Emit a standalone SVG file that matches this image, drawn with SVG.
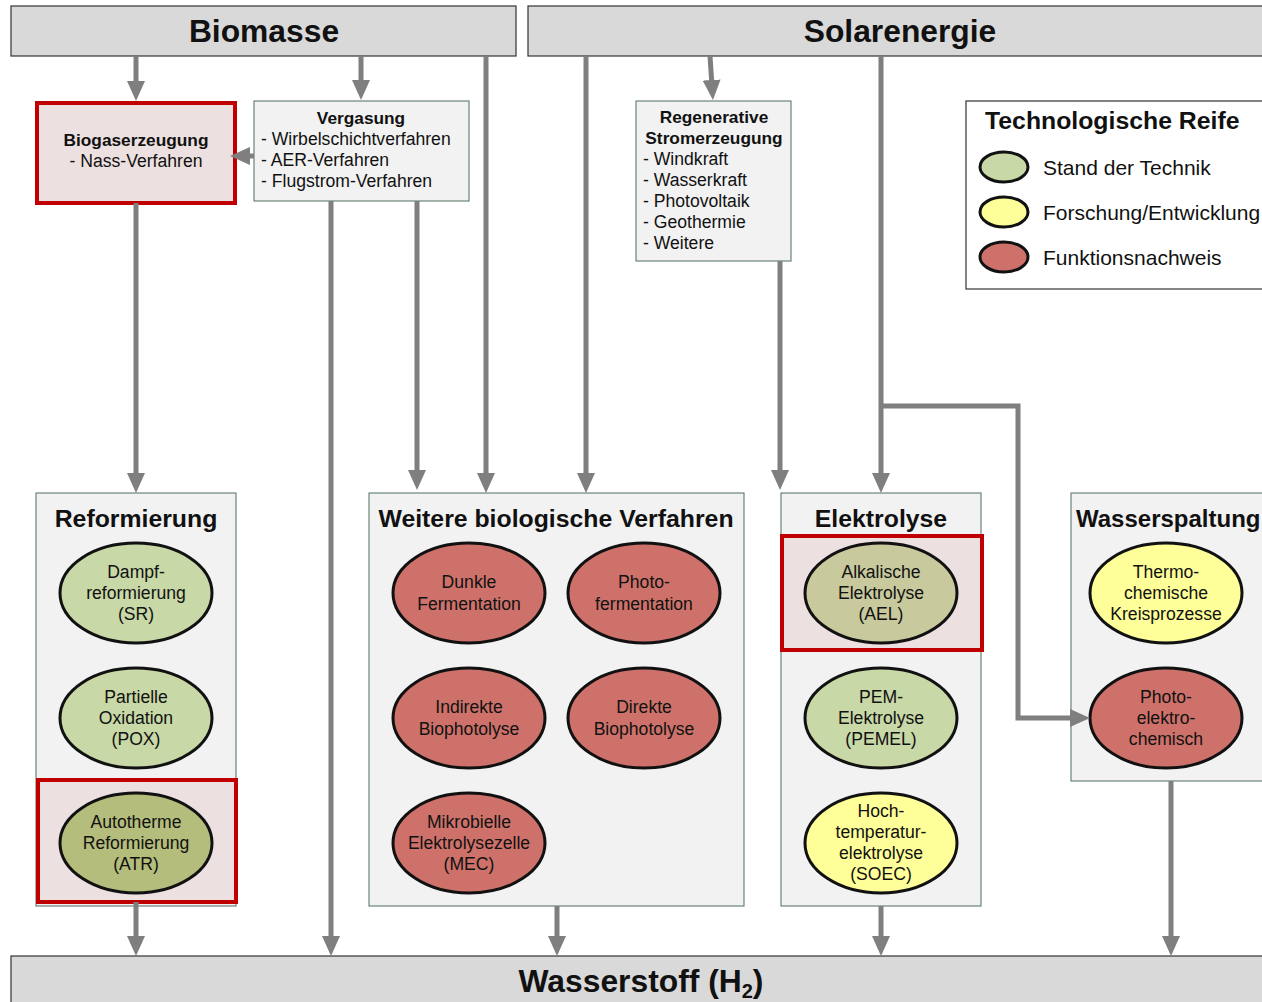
<svg xmlns="http://www.w3.org/2000/svg" width="1262" height="1002" viewBox="0 0 1262 1002">
<style>
text{font-family:"Liberation Sans",Arial,sans-serif;fill:#111}
.hdr{fill:#d9d9d9;stroke:#333;stroke-width:1.2}
.ht{font-size:31.8px;font-weight:bold;text-anchor:middle}
.box{fill:#f2f2f2;stroke:#4f6f5a;stroke-width:1}
.hl{fill:#ede0e0;stroke:#c00000;stroke-width:4}
.ti{font-size:24.8px;font-weight:bold}
.t17{font-size:17.6px}
.b17{font-size:17.3px;font-weight:bold}
.c{text-anchor:middle}
.el{stroke:#111;stroke-width:3}
.g{fill:#c8d8a6}.y{fill:#ffff99}.r{fill:#cd716a}
.con path{fill:none;stroke:#7f7f7f;stroke-width:5;marker-end:url(#ah)}
.lg{font-size:21px}
</style>
<defs>
<marker id="ah" viewBox="0 0 20 18" refX="6" refY="9" markerWidth="20" markerHeight="18" markerUnits="userSpaceOnUse" orient="auto">
<path d="M0,0 L20,9 L0,18 z" fill="#7f7f7f"/>
</marker>
</defs>
<rect width="1262" height="1002" fill="#fff"/>

<g id="biomasse"><rect class="hdr" x="11" y="6" width="505" height="50"/><text class="ht" x="264" y="42">Biomasse</text></g>
<g id="solarenergie"><rect class="hdr" x="528" y="6" width="740" height="50"/><text class="ht" x="900" y="42">Solarenergie</text></g>
<g id="wasserstoff"><rect class="hdr" x="11" y="956" width="1257" height="50"/><text class="ht" x="641" y="992">Wasserstoff (H<tspan font-size="20" dy="6">2</tspan><tspan dy="-6">)</tspan></text></g>

<g id="biogaserzeugung"><rect class="hl" x="37" y="103" width="198" height="100"/>
<text class="b17 c" x="136" y="146">Biogaserzeugung</text><text class="t17 c" x="136" y="167">- Nass-Verfahren</text></g>

<g id="vergasung"><rect class="box" x="254" y="101" width="215" height="100"/>
<text class="b17 c" x="361" y="124">Vergasung</text>
<text class="t17" x="261" y="145">- Wirbelschichtverfahren</text>
<text class="t17" x="261" y="166">- AER-Verfahren</text>
<text class="t17" x="261" y="187">- Flugstrom-Verfahren</text></g>

<g id="regenerative"><rect class="box" x="636" y="101" width="155" height="160"/>
<text class="b17 c" x="714" y="123">Regenerative</text>
<text class="b17 c" x="714" y="144">Stromerzeugung</text>
<text class="t17" x="643" y="165">- Windkraft</text>
<text class="t17" x="643" y="186">- Wasserkraft</text>
<text class="t17" x="643" y="207">- Photovoltaik</text>
<text class="t17" x="643" y="228">- Geothermie</text>
<text class="t17" x="643" y="249">- Weitere</text></g>

<g id="legende"><rect x="966" y="101" width="302" height="188" fill="#fff" stroke="#333" stroke-width="1.2"/>
<text class="ti" x="985" y="129">Technologische Reife</text>
<ellipse class="el g" cx="1004" cy="167" rx="24" ry="15" stroke-width="1.5"/><text class="lg" x="1043" y="175">Stand der Technik</text>
<ellipse class="el y" cx="1004" cy="212" rx="24" ry="15" stroke-width="1.5"/><text class="lg" x="1043" y="220">Forschung/Entwicklung</text>
<ellipse class="el r" cx="1004" cy="257" rx="24" ry="15" stroke-width="1.5"/><text class="lg" x="1043" y="265">Funktionsnachweis</text></g>

<g id="reformierung"><rect class="box" x="36" y="493" width="200" height="413"/>
<text class="ti c" x="136" y="527">Reformierung</text>
<rect class="hl" x="38" y="780" width="198" height="122"/>
<ellipse class="el g" cx="136" cy="593" rx="76" ry="50"/>
<text class="t17 c" x="136" y="578">Dampf-</text><text class="t17 c" x="136" y="599">reformierung</text><text class="t17 c" x="136" y="620">(SR)</text>
<ellipse class="el g" cx="136" cy="718" rx="76" ry="50"/>
<text class="t17 c" x="136" y="703">Partielle</text><text class="t17 c" x="136" y="724">Oxidation</text><text class="t17 c" x="136" y="745">(POX)</text>
<ellipse class="el" fill="#b4bd7b" cx="136" cy="843" rx="76" ry="50"/>
<text class="t17 c" x="136" y="828">Autotherme</text><text class="t17 c" x="136" y="849">Reformierung</text><text class="t17 c" x="136" y="870">(ATR)</text></g>

<g id="weitere"><rect class="box" x="369" y="493" width="375" height="413"/>
<text class="ti c" x="556" y="527">Weitere biologische Verfahren</text>
<ellipse class="el r" cx="469" cy="593" rx="76" ry="50"/>
<text class="t17 c" x="469" y="588">Dunkle</text><text class="t17 c" x="469" y="610">Fermentation</text>
<ellipse class="el r" cx="644" cy="593" rx="76" ry="50"/>
<text class="t17 c" x="644" y="588">Photo-</text><text class="t17 c" x="644" y="610">fermentation</text>
<ellipse class="el r" cx="469" cy="718" rx="76" ry="50"/>
<text class="t17 c" x="469" y="713">Indirekte</text><text class="t17 c" x="469" y="735">Biophotolyse</text>
<ellipse class="el r" cx="644" cy="718" rx="76" ry="50"/>
<text class="t17 c" x="644" y="713">Direkte</text><text class="t17 c" x="644" y="735">Biophotolyse</text>
<ellipse class="el r" cx="469" cy="843" rx="76" ry="50"/>
<text class="t17 c" x="469" y="828">Mikrobielle</text><text class="t17 c" x="469" y="849">Elektrolysezelle</text><text class="t17 c" x="469" y="870">(MEC)</text></g>

<g id="elektrolyse"><rect class="box" x="781" y="493" width="200" height="413"/>
<text class="ti c" x="881" y="527">Elektrolyse</text>
<rect class="hl" x="782" y="536" width="200" height="114"/>
<ellipse class="el" fill="#c8c99c" cx="881" cy="593" rx="76" ry="50"/>
<text class="t17 c" x="881" y="578">Alkalische</text><text class="t17 c" x="881" y="599">Elektrolyse</text><text class="t17 c" x="881" y="620">(AEL)</text>
<ellipse class="el g" cx="881" cy="718" rx="76" ry="50"/>
<text class="t17 c" x="881" y="703">PEM-</text><text class="t17 c" x="881" y="724">Elektrolyse</text><text class="t17 c" x="881" y="745">(PEMEL)</text>
<ellipse class="el y" cx="881" cy="843" rx="76" ry="50"/>
<text class="t17 c" x="881" y="817">Hoch-</text><text class="t17 c" x="881" y="838">temperatur-</text><text class="t17 c" x="881" y="859">elektrolyse</text><text class="t17 c" x="881" y="880">(SOEC)</text></g>

<g id="wasserspaltung"><rect class="box" x="1071" y="493" width="200" height="288"/>
<text class="ti" x="1076" y="527" style="font-size:24px">Wasserspaltung</text>
<ellipse class="el y" cx="1166" cy="593" rx="76" ry="50"/>
<text class="t17 c" x="1166" y="578">Thermo-</text><text class="t17 c" x="1166" y="599">chemische</text><text class="t17 c" x="1166" y="620">Kreisprozesse</text>
<ellipse class="el r" cx="1166" cy="718" rx="76" ry="50"/>
<text class="t17 c" x="1166" y="703">Photo-</text><text class="t17 c" x="1166" y="724">elektro-</text><text class="t17 c" x="1166" y="745">chemisch</text></g>

<g class="con" id="connectors">
<path d="M136,56 V87"/>
<path d="M361,56 V86"/>
<path d="M254,156 H244"/>
<path d="M486,56 V479"/>
<path d="M586,56 V479"/>
<path d="M710,56 L712,86"/>
<path d="M881,56 V479"/>
<path d="M881,406 H1018 V718 H1076"/>
<path d="M780,261 V476"/>
<path d="M136,203 V479"/>
<path d="M331,201 V942"/>
<path d="M417,201 V476"/>
<path d="M136,902 V942"/>
<path d="M557,906 V942"/>
<path d="M881,906 V942"/>
<path d="M1171,781 V942"/>
</g>
</svg>
